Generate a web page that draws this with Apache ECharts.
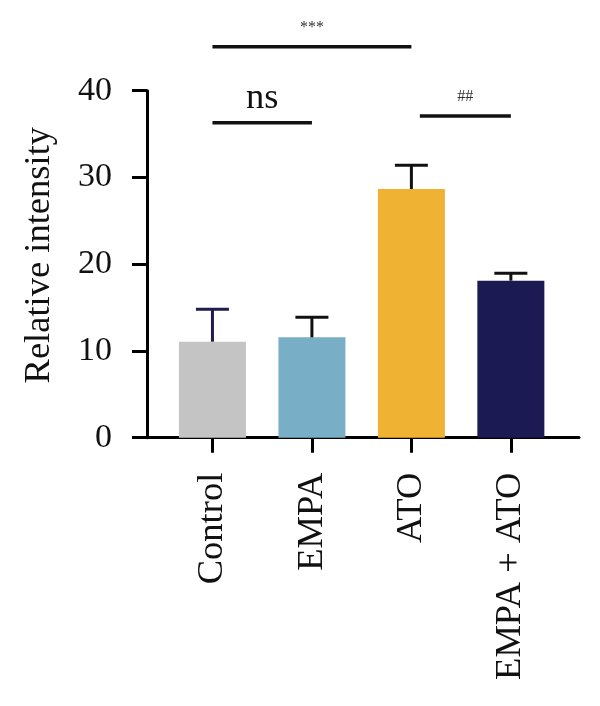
<!DOCTYPE html>
<html>
<head>
<meta charset="utf-8">
<script src="https://cdn.jsdelivr.net/npm/echarts@6/dist/echarts.min.js"></script>
<style>
  html, body { margin: 0; padding: 0; background: #fff; }
  #chart { width: 600px; height: 706px; }
</style>
</head>
<body>
<div id="chart"></div>
<script>
// groups and their means / upper error (SD)
const categories = ["Control", "EMPA", "ATO", "EMPA + ATO"];
const means = [11.07, 11.57, 28.67, 18.1];
const errors = [3.73, 2.31, 2.73, 0.85];
const yTicks = [0, 10, 20, 30, 40];

// significance brackets: [from group, to group, height, label]
const compFrom = [0, 0, 2.085];
const compTo = [2, 1, 3];
const compHeight = [45.07, 36.3, 37.07];
const compLabels = ["***", "ns", "##"];

const barColors = ["#c4c4c4", "#79afc6", "#f0b232", "#1b1a52"];
const errColors = ["#1e1d4c", "#111", "#111", "#111"];
const FONT = "'Liberation Serif', 'DejaVu Serif', serif";

const chart = echarts.init(document.getElementById("chart"));

const option = {
  animation: false,
  grid: { left: 147, right: 21, top: 90.7, bottom: 268.3 },
  xAxis: {
    type: "value",
    min: -0.658,
    max: 3.685,
    splitLine: { show: false },
    axisLine: { show: true, lineStyle: { color: "#000", width: 3 } },
    axisTick: {
      show: true,
      length: 15,
      customValues: [0, 1, 2, 3],
      lineStyle: { color: "#000", width: 3 },
    },
    axisLabel: {
      customValues: [0, 1, 2, 3],
      formatter: (v) => categories[Math.round(v)],
      rotate: 90,
      margin: 35,
      fontFamily: FONT,
      fontSize: 36.5,
      color: "#111",
    },
  },
  yAxis: {
    type: "value",
    min: yTicks[0],
    max: yTicks[yTicks.length - 1],
    interval: 10,
    name: "Relative intensity",
    nameLocation: "middle",
    nameGap: 89,
    nameTextStyle: {
      fontFamily: FONT,
      fontSize: 36.5,
      color: "#111",
      padding: [0, 0, 0, 18],
    },
    splitLine: { show: false },
    axisLine: { show: true, onZero: false, lineStyle: { color: "#000", width: 3 } },
    axisTick: { show: true, length: 15, lineStyle: { color: "#000", width: 3 } },
    axisLabel: { margin: 35, fontFamily: FONT, fontSize: 34, color: "#111" },
  },
  series: [
    {
      type: "bar",
      barWidth: 67,
      data: means.map((v, i) => ({
        value: [i, v],
        itemStyle: { color: barColors[i] },
      })),
      z: 2,
    },
    {
      // error bars (upper only)
      type: "custom",
      data: means.map((v, i) => [i, v, v + errors[i]]),
      renderItem: (params, api) => {
        const i = params.dataIndex;
        const base = api.coord([api.value(0), api.value(1)]);
        const top = api.coord([api.value(0), api.value(2)]);
        const half = 16.5;
        const style = { stroke: errColors[i], lineWidth: 3 };
        return {
          type: "group",
          children: [
            { type: "line", shape: { x1: base[0], y1: base[1], x2: top[0], y2: top[1] }, style },
            { type: "line", shape: { x1: top[0] - half, y1: top[1], x2: top[0] + half, y2: top[1] }, style },
          ],
        };
      },
      z: 3,
    },
    {
      // significance brackets
      type: "custom",
      clip: false,
      data: compLabels.map((t, i) => [compFrom[i], compTo[i], compHeight[i]]),
      renderItem: (params, api) => {
        const label = compLabels[params.dataIndex];
        const p1 = api.coord([api.value(0), api.value(2)]);
        const p2 = api.coord([api.value(1), api.value(2)]);
        const big = label === "ns";
        return {
          type: "group",
          children: [
            {
              type: "line",
              shape: { x1: p1[0], y1: p1[1], x2: p2[0], y2: p2[1] },
              style: { stroke: "#111", lineWidth: 3.5 },
            },
            {
              type: "text",
              x: (p1[0] + p2[0]) / 2,
              y: p1[1] - (big ? 24 : 19),
              style: {
                text: label,
                fontFamily: FONT,
                fontSize: big ? 36.5 : 16,
                fill: big ? "#111" : "#333",
                align: "center",
                verticalAlign: "middle",
              },
            },
          ],
        };
      },
      z: 4,
    },
  ],
};

chart.setOption(option);
</script>
</body>
</html>
